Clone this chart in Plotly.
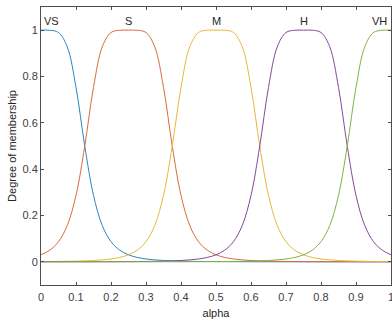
import plotly.graph_objects as go

# Universe of discourse for "alpha"
alpha = [0.0, 0.025, 0.05, 0.075, 0.1, 0.125, 0.15, 0.175, 0.2, 0.225,
         0.25, 0.275, 0.3, 0.325, 0.35, 0.375, 0.4, 0.425, 0.45, 0.475,
         0.5, 0.525, 0.55, 0.575, 0.6, 0.625, 0.65, 0.675, 0.7, 0.725,
         0.75, 0.775, 0.8, 0.825, 0.85, 0.875, 0.9, 0.925, 0.95, 0.975, 1.0]

# Membership degrees for each linguistic term
vs = [1.0, 0.9997, 0.9899, 0.9279, 0.7532, 0.5, 0.2867, 0.1568, 0.0871, 0.0503,
      0.0303, 0.019, 0.0124, 0.0084, 0.0058, 0.0041, 0.003, 0.0022, 0.0017, 0.0013,
      0.001, 0.0008, 0.0006, 0.0005, 0.0004, 0.0003, 0.0003, 0.0002, 0.0002, 0.0002,
      0.0001, 0.0001, 0.0001, 0.0001, 0.0001, 0.0001, 0.0001, 0.0, 0.0, 0.0, 0.0]

s = [0.0303, 0.0503, 0.0871, 0.1568, 0.2867, 0.5, 0.7532, 0.9279, 0.9899, 0.9997,
     1.0, 0.9997, 0.9899, 0.9279, 0.7532, 0.5, 0.2867, 0.1568, 0.0871, 0.0503,
     0.0303, 0.019, 0.0124, 0.0084, 0.0058, 0.0041, 0.003, 0.0022, 0.0017, 0.0013,
     0.001, 0.0008, 0.0006, 0.0005, 0.0004, 0.0003, 0.0003, 0.0002, 0.0002, 0.0002,
     0.0001]

m = [0.001, 0.0013, 0.0017, 0.0022, 0.003, 0.0041, 0.0058, 0.0084, 0.0124, 0.019,
     0.0303, 0.0503, 0.0871, 0.1568, 0.2867, 0.5, 0.7532, 0.9279, 0.9899, 0.9997,
     1.0, 0.9997, 0.9899, 0.9279, 0.7532, 0.5, 0.2867, 0.1568, 0.0871, 0.0503,
     0.0303, 0.019, 0.0124, 0.0084, 0.0058, 0.0041, 0.003, 0.0022, 0.0017, 0.0013,
     0.001]

h = [0.0001, 0.0002, 0.0002, 0.0002, 0.0003, 0.0003, 0.0004, 0.0005, 0.0006, 0.0008,
     0.001, 0.0013, 0.0017, 0.0022, 0.003, 0.0041, 0.0058, 0.0084, 0.0124, 0.019,
     0.0303, 0.0503, 0.0871, 0.1568, 0.2867, 0.5, 0.7532, 0.9279, 0.9899, 0.9997,
     1.0, 0.9997, 0.9899, 0.9279, 0.7532, 0.5, 0.2867, 0.1568, 0.0871, 0.0503,
     0.0303]

vh = [0.0, 0.0, 0.0, 0.0, 0.0001, 0.0001, 0.0001, 0.0001, 0.0001, 0.0001,
      0.0001, 0.0002, 0.0002, 0.0002, 0.0003, 0.0003, 0.0004, 0.0005, 0.0006, 0.0008,
      0.001, 0.0013, 0.0017, 0.0022, 0.003, 0.0041, 0.0058, 0.0084, 0.0124, 0.019,
      0.0303, 0.0503, 0.0871, 0.1568, 0.2867, 0.5, 0.7532, 0.9279, 0.9899, 0.9997,
      1.0]

terms = ["VS", "S", "M", "H", "VH"]
term_label_x = [0.03, 0.25, 0.5, 0.75, 0.968]
series = [vs, s, m, h, vh]
colors = ["#2b86c0", "#d96a3e", "#e8b83a", "#87479a", "#80b244"]

x_ticks = [0, 0.1, 0.2, 0.3, 0.4, 0.5, 0.6, 0.7, 0.8, 0.9, 1]
x_tick_text = ["0", "0.1", "0.2", "0.3", "0.4", "0.5", "0.6", "0.7", "0.8", "0.9", "1"]
y_ticks = [0, 0.2, 0.4, 0.6, 0.8, 1]
y_tick_text = ["0", "0.2", "0.4", "0.6", "0.8", "1"]

FONT = "Liberation Sans, Arial, sans-serif"
AXIS = "#4d4d4d"
FS = 11

fig = go.Figure()
for name, ys, col in zip(terms, series, colors):
    fig.add_trace(go.Scatter(
        x=alpha, y=ys, mode="lines", name=name,
        line=dict(color=col, width=1, shape="spline", smoothing=1.0),
        showlegend=False, hoverinfo="skip",
    ))

for name, lx in zip(terms, term_label_x):
    fig.add_annotation(
        x=lx, y=1.04, text=name, showarrow=False,
        xref="x", yref="y", xanchor="center", yanchor="middle",
        font=dict(family=FONT, size=FS, color="#262626"),
    )

axis_common = dict(
    showgrid=False, zeroline=False, showline=True, linecolor=AXIS, linewidth=1,
    mirror="ticks", ticks="inside", ticklen=3, tickwidth=1, tickcolor=AXIS,
    tickfont=dict(family=FONT, size=FS, color="#404040"),
    ticklabeloverflow="allow",
)

fig.update_layout(
    width=396, height=320,
    margin=dict(l=41, r=2, t=7, b=35),
    paper_bgcolor="white", plot_bgcolor="white",
    font=dict(family=FONT, color="#262626"),
    xaxis=dict(range=[0, 1], tickvals=x_ticks, ticktext=x_tick_text,
               ticklabelstandoff=2,
               title=dict(text="alpha", font=dict(family=FONT, size=FS, color="#262626"), standoff=7),
               **axis_common),
    yaxis=dict(range=[-0.1, 1.1], tickvals=y_ticks, ticktext=y_tick_text,
               title=dict(text="Degree of membership", font=dict(family=FONT, size=FS, color="#262626"), standoff=3),
               **axis_common),
)

fig.write_html(
    "out.html",
    post_script="document.documentElement.style.overflow='hidden';document.body.style.overflow='hidden';",
)
